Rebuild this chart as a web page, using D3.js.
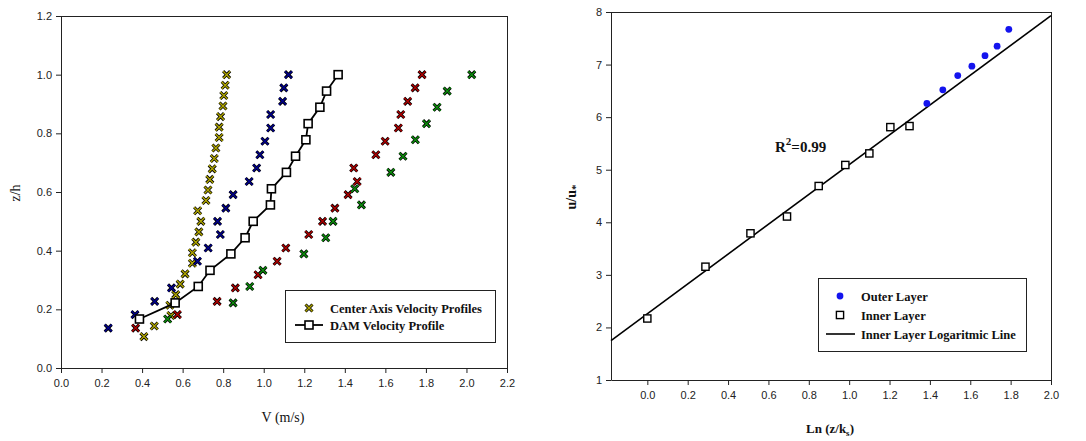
<!DOCTYPE html>
<html>
<head>
<meta charset="utf-8">
<script src="https://cdn.jsdelivr.net/npm/d3@7"></script>
<style>
  body { margin: 0; background: #fff; }
  svg { display: block; }
  .tick text { font-family: "Liberation Sans", Arial, sans-serif; font-size: 11px; fill: #222; }
</style>
</head>
<body>
<svg id="chart" width="1086" height="441"></svg>
<script>
// ---------- LEFT CHART DATA ----------
const leftXTicks = [0.0, 0.2, 0.4, 0.6, 0.8, 1.0, 1.2, 1.4, 1.6, 1.8, 2.0, 2.2];
const leftYTicks = [0.0, 0.2, 0.4, 0.6, 0.8, 1.0, 1.2];

// Center axis profile 1 (olive/yellow)
const yellowV = [0.409, 0.460, 0.542, 0.537, 0.566, 0.588, 0.612, 0.648, 0.648, 0.665, 0.680, 0.690, 0.674, 0.715, 0.725, 0.734, 0.746, 0.756, 0.764, 0.780, 0.780, 0.787, 0.799, 0.803, 0.810, 0.817];
const yellowZ = [0.107, 0.143, 0.179, 0.214, 0.250, 0.286, 0.321, 0.357, 0.393, 0.429, 0.464, 0.500, 0.536, 0.571, 0.607, 0.643, 0.679, 0.714, 0.750, 0.786, 0.821, 0.857, 0.893, 0.929, 0.964, 1.000];
// Center axis profile 2 (navy)
const blueV = [0.233, 0.365, 0.462, 0.545, 0.673, 0.726, 0.786, 0.772, 0.813, 0.849, 0.928, 0.965, 0.981, 1.006, 1.034, 1.034, 1.093, 1.099, 1.122];
const blueZ = [0.136, 0.182, 0.227, 0.273, 0.364, 0.409, 0.455, 0.500, 0.545, 0.591, 0.636, 0.682, 0.727, 0.773, 0.818, 0.864, 0.909, 0.955, 1.000];
// Center axis profile 3 (dark red)
const redV = [0.368, 0.574, 0.770, 0.860, 0.972, 1.066, 1.109, 1.222, 1.290, 1.351, 1.416, 1.461, 1.444, 1.553, 1.599, 1.664, 1.676, 1.710, 1.747, 1.781];
const redZ = [0.136, 0.182, 0.227, 0.273, 0.318, 0.364, 0.409, 0.455, 0.500, 0.545, 0.591, 0.636, 0.682, 0.727, 0.773, 0.818, 0.864, 0.909, 0.955, 1.000];
// Center axis profile 4 (green)
const greenV = [0.526, 0.849, 0.931, 0.996, 1.198, 1.306, 1.342, 1.482, 1.449, 1.627, 1.687, 1.748, 1.803, 1.855, 1.905, 2.026];
const greenZ = [0.167, 0.222, 0.278, 0.333, 0.389, 0.444, 0.500, 0.556, 0.611, 0.667, 0.722, 0.778, 0.833, 0.889, 0.944, 1.000];
// DAM velocity profile
const damV = [0.387, 0.563, 0.677, 0.735, 0.838, 0.908, 0.948, 1.033, 1.038, 1.112, 1.157, 1.208, 1.219, 1.277, 1.310, 1.367];
const damZ = [0.167, 0.222, 0.278, 0.333, 0.389, 0.444, 0.500, 0.556, 0.611, 0.667, 0.722, 0.778, 0.833, 0.889, 0.944, 1.000];

// ---------- RIGHT CHART DATA ----------
const rightXTicks = [0.0, 0.2, 0.4, 0.6, 0.8, 1.0, 1.2, 1.4, 1.6, 1.8, 2.0];
const rightYTicks = [1, 2, 3, 4, 5, 6, 7, 8];
const innerX = [0.000, 0.288, 0.511, 0.692, 0.849, 0.981, 1.100, 1.204, 1.299];
const innerY = [2.17, 3.155, 3.79, 4.11, 4.69, 5.09, 5.31, 5.81, 5.83];
const outerX = [1.385, 1.464, 1.538, 1.608, 1.673, 1.733, 1.791];
const outerY = [6.26, 6.52, 6.79, 6.97, 7.17, 7.35, 7.67];
const fitLineX = [-0.18, 2.0];
const fitLineY = [1.75, 7.93];

// ---------- DRAW ----------
const svg = d3.select("#chart");
const AX = "#222";
const serif = '"Liberation Serif", "Times New Roman", serif';

function drawAxes(g, x, y, xTicks, yTicks, fmtX, fmtY) {
  const [x0, x1] = x.range();
  const [y0, y1] = y.range();
  g.append("g").attr("transform", `translate(0,${y0})`)
    .call(d3.axisBottom(x).tickValues(xTicks).tickFormat(fmtX).tickSize(5).tickSizeOuter(0).tickPadding(6))
    .call(a => { a.select(".domain").attr("stroke", AX); a.selectAll(".tick line").attr("stroke", AX); });
  g.append("g").attr("transform", `translate(${x0},0)`)
    .call(d3.axisLeft(y).tickValues(yTicks).tickFormat(fmtY).tickSize(5).tickSizeOuter(0).tickPadding(4))
    .call(a => { a.select(".domain").attr("stroke", AX); a.selectAll(".tick line").attr("stroke", AX); });
  g.append("line").attr("x1", x0).attr("x2", x1).attr("y1", y1 + 0.5).attr("y2", y1 + 0.5).attr("stroke", AX);
  g.append("line").attr("x1", x1 + 0.5).attr("x2", x1 + 0.5).attr("y1", y1).attr("y2", y0).attr("stroke", AX);
}

// ===== LEFT =====
const xL = d3.scaleLinear().domain([0, 2.2]).range([61, 507]);
const yL = d3.scaleLinear().domain([0, 1.2]).range([368, 16]);
const gL = svg.append("g");
drawAxes(gL, xL, yL, leftXTicks, leftYTicks, d3.format(".1f"), d3.format(".1f"));

const xPath = "M-3.5,-3.5L3.5,3.5M-3.5,3.5L3.5,-3.5";
function xMarker(sel, color) {
  sel.append("path").attr("d", xPath).attr("stroke", "#000").attr("stroke-width", 3.0).attr("fill", "none");
  sel.append("path").attr("d", xPath).attr("stroke", color).attr("stroke-width", 1.4).attr("fill", "none");
}
function drawX(g, xs, ys, color, xs_, ys_) {
  const pts = xs.map((v, i) => [v, ys[i]]);
  const m = g.append("g").selectAll("g").data(pts).join("g")
    .attr("transform", d => `translate(${xs_(d[0])},${ys_(d[1])})`);
  xMarker(m, color);
}
const cYellow = "#b0a600", cBlue = "#000090", cRed = "#b00000", cGreen = "#0c900c";
drawX(gL, yellowV, yellowZ, cYellow, xL, yL);
drawX(gL, blueV, blueZ, cBlue, xL, yL);
drawX(gL, redV, redZ, cRed, xL, yL);
drawX(gL, greenV, greenZ, cGreen, xL, yL);

// DAM line + squares
const damPts = damV.map((v, i) => [v, damZ[i]]);
gL.append("path").datum(damPts)
  .attr("d", d3.line().x(d => xL(d[0])).y(d => yL(d[1])))
  .attr("fill", "none").attr("stroke", "#000").attr("stroke-width", 1.8);
gL.append("g").selectAll("rect").data(damPts).join("rect")
  .attr("x", d => xL(d[0]) - 4).attr("y", d => yL(d[1]) - 4)
  .attr("width", 8).attr("height", 8)
  .attr("fill", "#fff").attr("stroke", "#000").attr("stroke-width", 1.6);

// left titles
gL.append("text").attr("x", 283).attr("y", 422).attr("text-anchor", "middle")
  .attr("font-family", serif).attr("font-size", 14).attr("fill", "#111").text("V (m/s)");
gL.append("text").attr("transform", "translate(20,193) rotate(-90)").attr("text-anchor", "middle")
  .attr("font-family", serif).attr("font-size", 14).attr("fill", "#111").text("z/h");

// left legend
const lg = gL.append("g");
lg.append("rect").attr("x", 285.5).attr("y", 290.5).attr("width", 210).attr("height", 52)
  .attr("fill", "#fff").attr("stroke", "#222").attr("stroke-width", 1);
{
  const m = lg.append("g").attr("transform", "translate(309,308)");
  xMarker(m, cYellow);
  lg.append("line").attr("x1", 295).attr("x2", 323).attr("y1", 325).attr("y2", 325).attr("stroke", "#000").attr("stroke-width", 1.8);
  lg.append("rect").attr("x", 305).attr("y", 321).attr("width", 8).attr("height", 8)
    .attr("fill", "#fff").attr("stroke", "#000").attr("stroke-width", 1.6);
  lg.append("text").attr("x", 330).attr("y", 312.5).attr("font-family", serif).attr("font-weight", "bold")
    .attr("font-size", 12.5).attr("fill", "#111").text("Center Axis Velocity Profiles");
  lg.append("text").attr("x", 330).attr("y", 329.5).attr("font-family", serif).attr("font-weight", "bold")
    .attr("font-size", 12.5).attr("fill", "#111").text("DAM Velocity Profile");
}

// ===== RIGHT =====
const xR = d3.scaleLinear().domain([-0.18, 2.0]).range([611, 1051]);
const yR = d3.scaleLinear().domain([1, 8]).range([380, 12]);
const gR = svg.append("g");
drawAxes(gR, xR, yR, rightXTicks, rightYTicks, d3.format(".1f"), d3.format("d"));

const fitPts = fitLineX.map((v, i) => [v, fitLineY[i]]);
gR.append("path").datum(fitPts)
  .attr("d", d3.line().x(d => xR(d[0])).y(d => yR(d[1])))
  .attr("fill", "none").attr("stroke", "#000").attr("stroke-width", 1.6);

const innerPts = innerX.map((v, i) => [v, innerY[i]]);
gR.append("g").selectAll("rect").data(innerPts).join("rect")
  .attr("x", d => xR(d[0]) - 3.6).attr("y", d => yR(d[1]) - 3.6)
  .attr("width", 7.2).attr("height", 7.2)
  .attr("fill", "#fff").attr("stroke", "#000").attr("stroke-width", 1.4);
const outerPts = outerX.map((v, i) => [v, outerY[i]]);
gR.append("g").selectAll("circle").data(outerPts).join("circle")
  .attr("cx", d => xR(d[0])).attr("cy", d => yR(d[1])).attr("r", 3.4)
  .attr("fill", "#1414ee");

{
  const t = gR.append("text").attr("x", 775).attr("y", 152).attr("font-family", serif)
    .attr("font-weight", "bold").attr("font-size", 15).attr("fill", "#111");
  t.append("tspan").text("R");
  t.append("tspan").attr("dy", -7).attr("font-size", 11).text("2");
  t.append("tspan").attr("dy", 7).text("=0.99");
}

{
  const t = gR.append("text").attr("x", 830).attr("y", 433).attr("text-anchor", "middle")
    .attr("font-family", serif).attr("font-weight", "bold").attr("font-size", 13).attr("fill", "#111");
  t.append("tspan").text("Ln (z/k");
  t.append("tspan").attr("dy", 3).attr("font-size", 9).text("s");
  t.append("tspan").attr("dy", -3).text(")");
}
{
  const t = gR.append("text").attr("transform", "translate(576,197) rotate(-90)").attr("text-anchor", "middle")
    .attr("font-family", serif).attr("font-weight", "bold").attr("font-size", 14).attr("fill", "#111");
  t.append("tspan").text("u/u");
  t.append("tspan").attr("dy", 3).attr("font-size", 11).text("*");
}

{
  const rg = gR.append("g");
  rg.append("rect").attr("x", 818.5).attr("y", 278.5).attr("width", 208).attr("height", 73)
    .attr("fill", "#fff").attr("stroke", "#222").attr("stroke-width", 1);
  rg.append("circle").attr("cx", 840).attr("cy", 296).attr("r", 3.4).attr("fill", "#1414ee");
  rg.append("rect").attr("x", 836.4).attr("y", 311.4).attr("width", 7.2).attr("height", 7.2)
    .attr("fill", "#fff").attr("stroke", "#000").attr("stroke-width", 1.4);
  rg.append("line").attr("x1", 826).attr("x2", 855).attr("y1", 334).attr("y2", 334)
    .attr("stroke", "#000").attr("stroke-width", 1.6);
  const labels = ["Outer Layer", "Inner Layer", "Inner Layer Logaritmic Line"];
  const ys = [301, 320, 339];
  labels.forEach((l, i) => rg.append("text").attr("x", 861).attr("y", ys[i])
    .attr("font-family", serif).attr("font-weight", "bold").attr("font-size", 12.5).attr("fill", "#111").text(l));
}
</script>
</body>
</html>
